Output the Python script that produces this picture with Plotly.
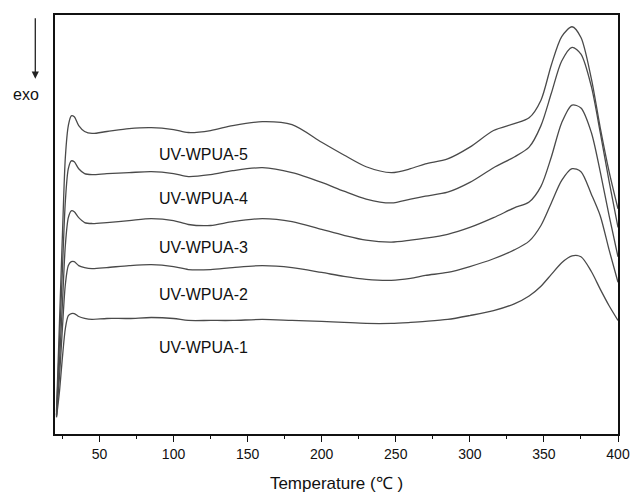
import plotly.graph_objects as go

# Temperature grid (°C)
temperature = [21, 23, 25, 27, 29, 31, 33, 36, 40, 45, 55, 70, 85, 100, 110, 125, 140, 160, 180,
               200, 215, 230, 247, 260, 270, 285, 300, 316, 330, 340, 348, 355, 362, 369, 375,
               382, 388, 394, 400]

# Heat-flow signals (arbitrary units; exo down)
wpua_1 = [17, 43, 78, 108, 121, 123, 123, 120, 118, 117, 118, 118, 119, 118, 116, 116, 116, 117, 116,
          115, 114, 113, 113, 114, 115, 117, 121, 126, 133, 141, 151, 163, 175, 182, 181,
          166, 148, 131, 116]
wpua_2 = [18, 58, 108, 153, 172, 176, 176, 172, 170, 169, 170, 172, 173, 171, 168, 168, 170, 172, 170,
          165, 161, 158, 157, 159, 162, 165, 171, 179, 188, 197, 213, 236, 259, 271, 268,
          245, 223, 188, 155]
wpua_3 = [19, 73, 133, 193, 221, 228, 227, 221, 216, 215, 216, 218, 220, 218, 214, 213, 217, 220, 217,
          209, 203, 198, 196, 198, 200, 204, 211, 221, 231, 237, 253, 283, 318, 336, 333,
          308, 268, 223, 181]
wpua_4 = [20, 93, 168, 238, 271, 279, 278, 271, 266, 265, 266, 267, 268, 266, 263, 265, 269, 272, 267,
          257, 248, 240, 236, 240, 243, 247, 257, 272, 283, 293, 315, 348, 381, 395, 388,
          355, 308, 258, 211]
wpua_5 = [23, 113, 203, 283, 315, 325, 324, 315, 309, 307, 309, 312, 313, 311, 308, 310, 315, 319, 316,
          298, 285, 273, 267, 271, 276, 281, 293, 310, 317, 323, 341, 377, 406, 416, 405,
          363, 313, 268, 230]

series = [("UV-WPUA-1", wpua_1), ("UV-WPUA-2", wpua_2), ("UV-WPUA-3", wpua_3),
          ("UV-WPUA-4", wpua_4), ("UV-WPUA-5", wpua_5)]

# label anchor positions (data units)
label_x = [120, 120, 120, 120, 120]
label_y = [88, 143, 191, 241, 286]

x_ticks = [50, 100, 150, 200, 250, 300, 350, 400]

fig = go.Figure()
for name, vals in series:
    fig.add_trace(go.Scatter(x=temperature, y=vals, mode="lines", name=name,
                             line=dict(color="#4a4a4a", width=1.3, shape="spline", smoothing=0.8),
                             showlegend=False))

for (name, _), lx, ly in zip(series, label_x, label_y):
    fig.add_annotation(x=lx, y=ly, text=name, showarrow=False, xanchor="center", yanchor="middle",
                       font=dict(family="Liberation Sans, Arial", size=16, color="#111"))

# exo arrow and label
fig.add_annotation(x=-0.035, y=0.848, xref="paper", yref="paper", text="", showarrow=True,
                   ax=0, ay=-62, arrowhead=2, arrowsize=1.1, arrowwidth=1.3, arrowcolor="#222")
fig.add_annotation(x=-0.051, y=0.811, xref="paper", yref="paper", text="exo", showarrow=False,
                   xanchor="center", yanchor="middle",
                   font=dict(family="Liberation Sans, Arial", size=16, color="#111"))

fig.update_layout(
    width=642, height=502,
    margin=dict(l=55, r=15, t=15, b=59),
    paper_bgcolor="white", plot_bgcolor="white",
    font=dict(family="Liberation Sans, Arial", color="#111"),
    xaxis=dict(range=[20, 400], tickvals=x_ticks, ticks="outside", ticklen=6, tickwidth=1.3,
               tickcolor="#111", showline=True, linecolor="#111", linewidth=2, mirror=True,
               showgrid=False, zeroline=False, tickfont=dict(size=14),
               minor=dict(dtick=25, tick0=0, ticks="outside", ticklen=3, tickcolor="#111", tickwidth=1.2),
               title=dict(text="Temperature (℃ )", font=dict(size=17), standoff=16)),
    yaxis=dict(range=[0, 428], showticklabels=False, ticks="", showline=True, linecolor="#111",
               linewidth=2, mirror=True, showgrid=False, zeroline=False),
)

fig.write_html("out.html")
